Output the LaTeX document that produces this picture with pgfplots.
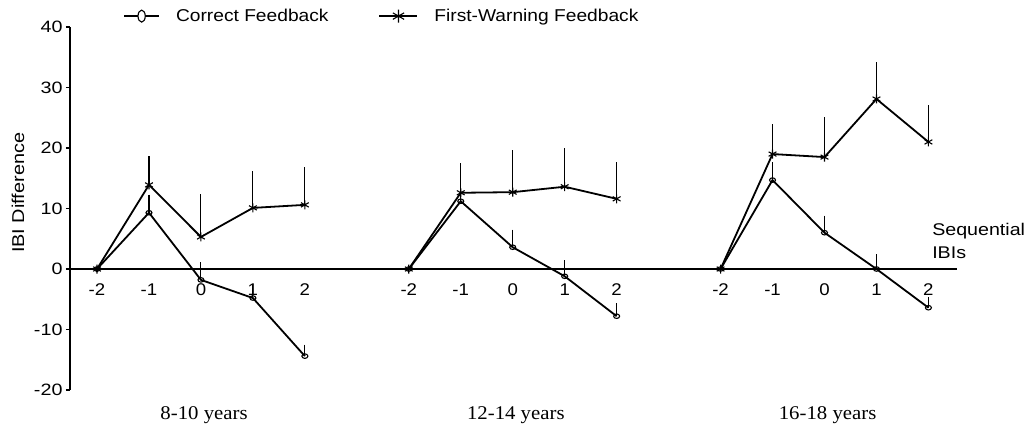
\documentclass[border=0pt]{standalone}
\usepackage{pgfplots}
\pgfplotsset{compat=1.18}
\usepackage{fontspec}
\setmainfont{Liberation Sans}
\newfontfamily\timesfont[FakeStretch=1.07]{Liberation Serif}
\newfontfamily\legfont[FakeStretch=1.12]{Liberation Sans}
\newfontfamily\tickfont[FakeStretch=1.2]{Liberation Sans}
\newfontfamily\xtickfont[FakeStretch=1.1]{Liberation Sans}
\newfontfamily\labfont[FakeStretch=1.16]{Liberation Sans}
\begin{document}
\begin{tikzpicture}
\useasboundingbox (-70bp,-38bp) rectangle (965bp,390bp);
\begin{axis}[
  at={(0,0)}, anchor=south west,
  scale only axis, width=887bp, height=363bp,
  xmin=-0.52, xmax=16.55, ymin=-20, ymax=40,
  clip=false,
  axis x line=middle, axis y line=left,
  axis line style={-, line width=1.8bp},
  hide obscured x ticks=false, hide obscured y ticks=false,
  ytick={-20,-10,0,10,20,30,40},
  yticklabels={-20,-10,0,10,20,30,40},
  xtick={0,1,2,3,4,6,7,8,9,10,12,13,14,15,16},
  xticklabels={-2,-1,0,1,2,-2,-1,0,1,2,-2,-1,0,1,2},
  x tick style={draw=none},
  y tick style={line width=1.6bp, black},
  tick align=outside, major tick length=4bp,
  yticklabel style={font=\tickfont\fontsize{16.5}{18}\selectfont, xshift=0bp},
  xticklabel style={font=\xtickfont\fontsize{17}{18}\selectfont, yshift=-7bp},
  ylabel={IBI Difference},
  ylabel style={at={(axis description cs:-0.0586,0.543)}, anchor=center, rotate=0, font=\labfont\fontsize{17.2}{18}\selectfont},
  legend columns=2,
  legend style={draw=none, fill=none, at={(axis description cs:0.0598,1.030)}, anchor=west,
    font=\legfont\fontsize{17.2}{18}\selectfont, inner sep=0pt, nodes={inner sep=0pt},
    /tikz/every odd column/.append style={column sep=16bp},
    /tikz/every even column/.append style={column sep=50bp}},
  unbounded coords=jump,
]
\addplot[black, line width=1.8bp, mark=o, mark size=3bp, mark options={fill=white, line width=1.1bp, solid, yscale=0.75},
  legend image code/.code={
    \draw[line width=1.8bp] (0bp,0bp) -- (35bp,0bp);
    \draw[line width=1.1bp, fill=white] (17.5bp,0bp) ellipse (3.6bp and 6bp);},
  error bars/.cd, y dir=plus, y explicit, error mark=-, error mark options={line width=1.1bp, mark size=2.5bp, black},
  error bar style={line width=1.1bp, black}]
  table[x=x, y=y, y error=e] {
x y e
0 0 0
1 9.3 2.6
2 -1.8 2.5
3 -4.8 1.8
4 -14.4 1.5
5 nan 0
6 0 0
7 11.2 2.7
8 3.6 2.5
9 -1.2 2.2
10 -7.8 1.7
11 nan 0
12 0 0
13 14.7 2.5
14 6.0 2.4
15 0.0 2.0
16 -6.4 1.4
};
\addlegendentry{Correct Feedback}
\addplot[black, line width=1.8bp, mark=asterisk, mark size=4.5bp, mark options={line width=1.1bp, solid},
  legend image code/.code={
    \draw[line width=1.8bp] (0bp,0bp) -- (38bp,0bp);
    \draw[line width=1.1bp] plot[only marks, mark=asterisk, mark size=6.5bp] coordinates {(19bp,0bp)};},
  error bars/.cd, y dir=plus, y explicit, error mark=none,
  error bar style={line width=1.1bp, black}]
  table[x=x, y=y, y error=e] {
x y e
0 0 0
1 13.9 4.8
2 5.3 7.1
3 10.1 6.1
4 10.6 6.3
5 nan 0
6 0 0
7 12.6 4.9
8 12.7 7.0
9 13.6 6.4
10 11.6 6.1
11 nan 0
12 0 0
13 19.0 5.0
14 18.5 6.6
15 28.1 6.1
16 21.0 6.1
};
\addlegendentry{First-Warning Feedback}
\node[font=\timesfont\fontsize{19.5}{22}\selectfont] at (axis cs:2.06,-24.1) {8-10 years};
\node[font=\timesfont\fontsize{19.5}{22}\selectfont] at (axis cs:8.06,-24.1) {12-14 years};
\node[font=\timesfont\fontsize{19.5}{22}\selectfont] at (axis cs:14.06,-24.1) {16-18 years};
\node[font=\labfont\fontsize{17}{23}\selectfont, align=left, anchor=north west, inner sep=0pt] at (axis cs:16.07,7.6) {Sequential\\IBIs};
\end{axis}
\end{tikzpicture}
\end{document}
